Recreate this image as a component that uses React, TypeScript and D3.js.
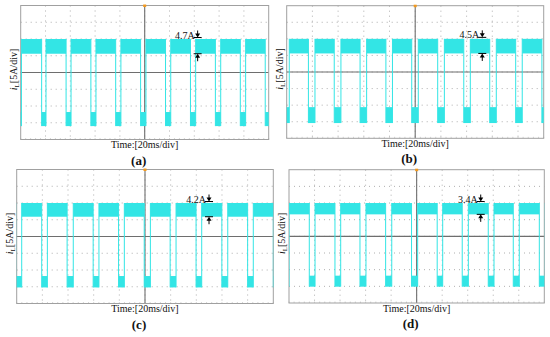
import React from "react";
import * as d3 from "d3";

// oscilloscope captures of inductor current, 4 panels
const panelLabels = ["(a)", "(b)", "(c)", "(d)"];
const rippleLabels = ["4.7A", "4.5A", "4.2A", "3.4A"];
const timeLabel = "Time:[20ms/div]";

// levels in A (5A/div, centre = 0)
const highTop = [10, 10, 10, 10];
const highBottom = [5.6, 5.6, 5.9, 6.6];
const lowTop = [-11.8, -10.6, -11.8, -11.8];
const lowBottom = [-16.0, -15.4, -15.2, -15.1];

// edge times in ms (20ms/div, 10 div)
const fallsA = [-3.2, 16.9, 36.6, 56.6, 76.6, 96.7, 116.8, 136.9, 157.0, 177.1, 197.2];
const risesA = [0.6, 20.4, 40.6, 60.7, 80.8, 101.0, 121.0, 141.1, 161.3, 181.4, 201.4];
const fallsB = [-3.0, 16.9, 37.0, 57.1, 77.2, 97.3, 117.5, 137.8, 158.0, 178.2, 198.6];
const risesB = [2.0, 22.0, 42.2, 62.2, 82.3, 102.4, 122.7, 142.9, 163.1, 183.3, 203.4];
const fallsC = [-0.6, 19.5, 39.3, 59.6, 79.4, 99.4, 119.6, 139.8, 159.9, 180.0, 200.0];
const risesC = [3.9, 23.9, 44.1, 64.1, 83.9, 104.2, 124.2, 144.2, 164.5, 184.4, 204.4];
const fallsD = [-4.4, 15.9, 36.0, 55.6, 75.7, 96.0, 116.1, 135.7, 156.1, 175.7, 196.1];
const risesD = [0.0, 20.4, 40.5, 60.3, 80.5, 100.8, 120.4, 140.5, 160.6, 180.4, 200.5];
const falls = [fallsA, fallsB, fallsC, fallsD];
const rises = [risesA, risesB, risesC, risesD];

// where the ripple marker sits (ms)
const markerT = [142.7, 152.2, 149.9, 150.2];

const boxes = [
  { x0: 20.7, x1: 268.7, y0: 5.5, y1: 139.5 },
  { x0: 286.7, x1: 543.7, y0: 5.7, y1: 138.3 },
  { x0: 16.7, x1: 273.3, y0: 169.5, y1: 303.5 },
  { x0: 289, x1: 544.3, y0: 169.7, y1: 303 },
];

const CYAN = "#33e5e5";
const FONT = "'Liberation Serif', 'Times New Roman', serif";

function Panel({ i }: { i: number }) {
  const b = boxes[i];
  const x = d3.scaleLinear().domain([0, 200]).range([b.x0, b.x1]);
  const y = d3.scaleLinear().domain([-20, 20]).range([b.y1, b.y0]);
  const xTicks = d3.range(0, 201, 20);
  const yTicks = d3.range(-20, 21, 5);
  const minorX = d3.range(0, 201, 4);
  const clipId = "clip" + i;
  const fl = falls[i];
  const rs = rises[i];

  // high segments: from rise k to fall k+1
  const highs = rs.map((r, k) => [r, fl[k + 1] ?? 200]).filter((s) => s[1] > s[0]);
  const lows = fl.map((f, k) => [f, rs[k]]);

  const mx = x(markerT[i]);
  const tb = y(highTop[i]) - 1.5;
  const bb = y(highBottom[i]);
  const cx = (b.x0 + b.x1) / 2;
  const cy = (b.y0 + b.y1) / 2;

  return (
    <g>
      <defs>
        <clipPath id={clipId}>
          <rect x={b.x0} y={b.y0} width={b.x1 - b.x0} height={b.y1 - b.y0} />
        </clipPath>
      </defs>
      {xTicks.slice(1, -1).map((t) => (
        <line key={"gx" + t} x1={x(t)} x2={x(t)} y1={b.y0} y2={b.y1}
          stroke="#9a9a9a" strokeWidth={0.8} strokeDasharray="1,4" />
      ))}
      {yTicks.slice(1, -1).map((t) => (
        <line key={"gy" + t} x1={b.x0} x2={b.x1} y1={y(t)} y2={y(t)}
          stroke="#9a9a9a" strokeWidth={0.8} strokeDasharray="1,4" />
      ))}
      {minorX.map((t) => (
        <line key={"mx" + t} x1={x(t)} x2={x(t)} y1={b.y1} y2={b.y1 - 1.5} stroke="#bbb" strokeWidth={0.6} />
      ))}
      <line x1={b.x0} x2={b.x1} y1={y(0)} y2={y(0)} stroke="#6e6e6e" strokeWidth={1.1} />
      <line x1={x(100)} x2={x(100)} y1={b.y0} y2={b.y1} stroke="#6e6e6e" strokeWidth={1.1} />
      <rect x={b.x0} y={b.y0} width={b.x1 - b.x0} height={b.y1 - b.y0}
        fill="none" stroke="#a0a0a0" strokeWidth={1} />

      <g clipPath={`url(#${clipId})`}>
        {highs.map((s, k) => (
          <rect key={"h" + k} x={x(s[0])} width={x(s[1]) - x(s[0])}
            y={y(highTop[i])} height={y(highBottom[i]) - y(highTop[i])} fill={CYAN} />
        ))}
        {lows.map((s, k) => (
          <rect key={"l" + k} x={x(s[0])} width={x(s[1]) - x(s[0])}
            y={y(lowTop[i])} height={y(lowBottom[i]) - y(lowTop[i])} fill={CYAN} />
        ))}
        {fl.concat(rs).map((t, k) => (
          <line key={"e" + k} x1={x(t)} x2={x(t)} y1={y(highTop[i])} y2={y(lowBottom[i])}
            stroke={CYAN} strokeWidth={1} />
        ))}
      </g>

      <rect x={x(100) - 1.5} y={b.y0 - 1} width={3} height={2.5} fill="#f39a1e" />

      {/* ripple marker */}
      <text x={mx - 3} y={tb + 1} fontFamily={FONT} fontSize={10} textAnchor="end" fill="#111">
        {rippleLabels[i]}
      </text>
      <line x1={mx - 4} x2={mx + 4} y1={tb} y2={tb} stroke="#000" strokeWidth={1} />
      <line x1={mx} x2={mx} y1={tb - 7} y2={tb - 3} stroke="#000" strokeWidth={1} />
      <path d={`M${mx - 2.5},${tb - 4}L${mx + 2.5},${tb - 4}L${mx},${tb}Z`} fill="#000" />
      <line x1={mx - 4} x2={mx + 4} y1={bb} y2={bb} stroke="#000" strokeWidth={1} />
      <line x1={mx} x2={mx} y1={bb + 3} y2={bb + 7.5} stroke="#000" strokeWidth={1} />
      <path d={`M${mx - 2.5},${bb + 4}L${mx + 2.5},${bb + 4}L${mx},${bb}Z`} fill="#000" />

      <text x={cx} y={b.y1 + 8.5} fontFamily={FONT} fontSize={10} textAnchor="middle" fill="#111">
        {timeLabel}
      </text>
      <text x={cx - 6} y={b.y1 + 25} fontFamily={FONT} fontSize={13} fontWeight="bold"
        textAnchor="middle" fill="#111">
        {panelLabels[i]}
      </text>
      <text transform={`translate(${b.x0 - 4},${cy - 3}) rotate(-90)`} fontFamily={FONT}
        fontSize={10} textAnchor="middle" fill="#111">
        <tspan fontStyle="italic">i</tspan>
        <tspan fontSize={7} dy={2}>L</tspan>
        <tspan dy={-2}>[5A/div]</tspan>
      </text>
    </g>
  );
}

export default function App() {
  return (
    <svg width={550} height={337} style={{ position: "absolute", left: 0, top: 0, background: "#fff" }}>
      {boxes.map((_, i) => (
        <Panel key={i} i={i} />
      ))}
    </svg>
  );
}
